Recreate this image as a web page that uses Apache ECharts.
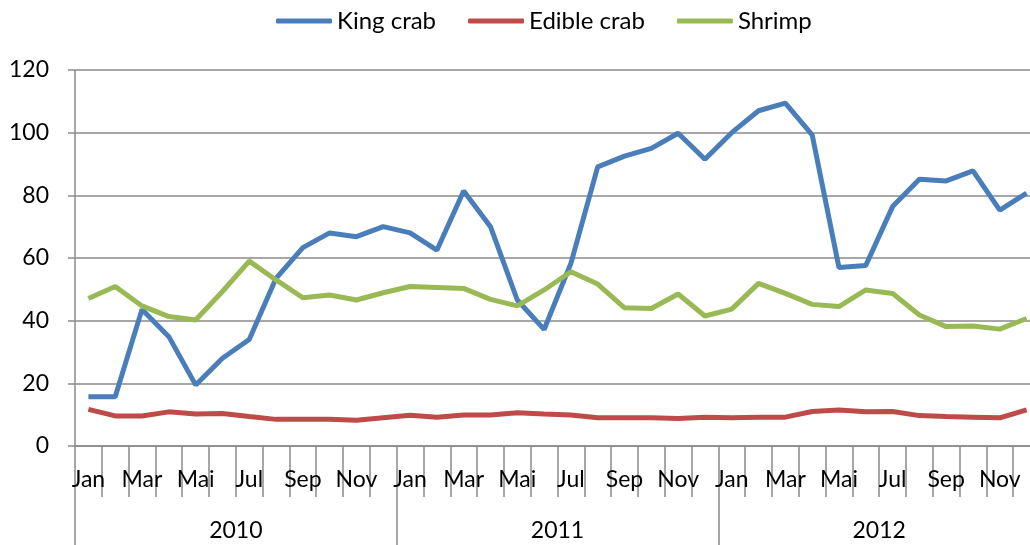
<!DOCTYPE html>
<html>
<head>
<meta charset="utf-8">
<script src="https://cdn.jsdelivr.net/npm/echarts@6/dist/echarts.min.js"></script>
<style>
  html, body { margin: 0; padding: 0; background: #fff; }
  #main { width: 1030px; height: 545px; }
</style>
</head>
<body>
<div id="main"></div>
<script>
// months Jan 2010 .. Dec 2012
const monthNames = ['Jan', 'Feb', 'Mar', 'Apr', 'Mai', 'Jun', 'Jul', 'Aug', 'Sep', 'Okt', 'Nov', 'Des']
const years = ['2010', '2011', '2012']
const months = []
years.forEach(y => monthNames.forEach(m => months.push(m)))

const kingCrab = [
  15.7, 15.7, 43.6, 34.9, 19.5, 28.0, 34.0, 53.5, 63.3, 68.0, 66.8, 70.0,
  68.0, 62.5, 81.4, 70.0, 46.6, 37.2, 58.3, 89.1, 92.5, 95.0, 99.8, 91.5,
  100.0, 107.0, 109.4, 99.3, 57.0, 57.6, 76.4, 85.1, 84.6, 87.8, 75.3, 80.7
]
const edibleCrab = [
  11.7, 9.6, 9.6, 10.9, 10.2, 10.4, 9.4, 8.5, 8.5, 8.5, 8.2, 9.0,
  9.8, 9.2, 9.9, 9.9, 10.6, 10.2, 9.9, 9.0, 9.0, 9.0, 8.8, 9.2,
  9.0, 9.2, 9.2, 11.0, 11.5, 10.9, 11.0, 9.7, 9.4, 9.2, 9.0, 11.5
]
const shrimp = [
  47.1, 50.9, 44.7, 41.3, 40.2, 49.3, 59.0, 53.0, 47.3, 48.2, 46.6, 48.9,
  50.9, 50.6, 50.3, 46.8, 44.7, 49.8, 55.6, 51.7, 44.1, 43.9, 48.5, 41.5,
  43.7, 51.9, 48.7, 45.2, 44.5, 49.8, 48.7, 41.8, 38.1, 38.3, 37.3, 40.7
]

const font = 'Lato, "Open Sans", sans-serif'
const gray = '#8a8a8a'

const myChart = echarts.init(document.getElementById('main'))
const option = {
  animation: false,
  textStyle: { fontFamily: font },
  legend: {
    top: 4,
    left: 271,
    icon: 'roundRect',
    itemWidth: 56,
    itemHeight: 5,
    itemGap: 32,
    textStyle: { fontSize: 24, color: '#000', fontFamily: font }
  },
  grid: {
    left: 75,
    top: 70,
    width: 965,
    height: 376,
    outerBoundsMode: 'none',
    containLabel: false
  },
  xAxis: [
    {
      type: 'category',
      data: months,
      boundaryGap: true,
      axisLine: { show: true, lineStyle: { color: gray, width: 1.5 } },
      axisTick: { show: true, interval: 0, length: 51, lineStyle: { color: gray, width: 1.5 } },
      axisLabel: { interval: 1, margin: 22, fontSize: 23, color: '#000', fontFamily: font },
      splitLine: { show: false }
    },
    {
      type: 'category',
      data: years,
      position: 'bottom',
      boundaryGap: true,
      axisLine: { show: false },
      axisTick: { show: true, interval: 0, length: 100, lineStyle: { color: gray, width: 1.5 } },
      axisLabel: { margin: 73, fontSize: 23, color: '#000', fontFamily: font },
      splitLine: { show: false }
    }
  ],
  yAxis: {
    type: 'value',
    min: 0,
    max: 120,
    interval: 20,
    axisLine: { show: true, lineStyle: { color: gray, width: 1.5 } },
    axisTick: { show: true, length: 7, lineStyle: { color: gray, width: 1.5 } },
    axisLabel: { margin: 26, fontSize: 23, color: '#000', fontFamily: font },
    splitLine: { show: true, lineStyle: { color: gray, width: 1.5 } }
  },
  series: [
    {
      name: 'King crab',
      type: 'line',
      data: kingCrab,
      showSymbol: false,
      symbol: 'none',
      itemStyle: { color: '#4a7ebb' },
      lineStyle: { color: '#4a7ebb', width: 5 }
    },
    {
      name: 'Edible crab',
      type: 'line',
      data: edibleCrab,
      showSymbol: false,
      symbol: 'none',
      itemStyle: { color: '#be4b48' },
      lineStyle: { color: '#be4b48', width: 5 }
    },
    {
      name: 'Shrimp',
      type: 'line',
      data: shrimp,
      showSymbol: false,
      symbol: 'none',
      itemStyle: { color: '#98b954' },
      lineStyle: { color: '#98b954', width: 5 }
    }
  ]
}
myChart.setOption(option)
</script>
</body>
</html>
